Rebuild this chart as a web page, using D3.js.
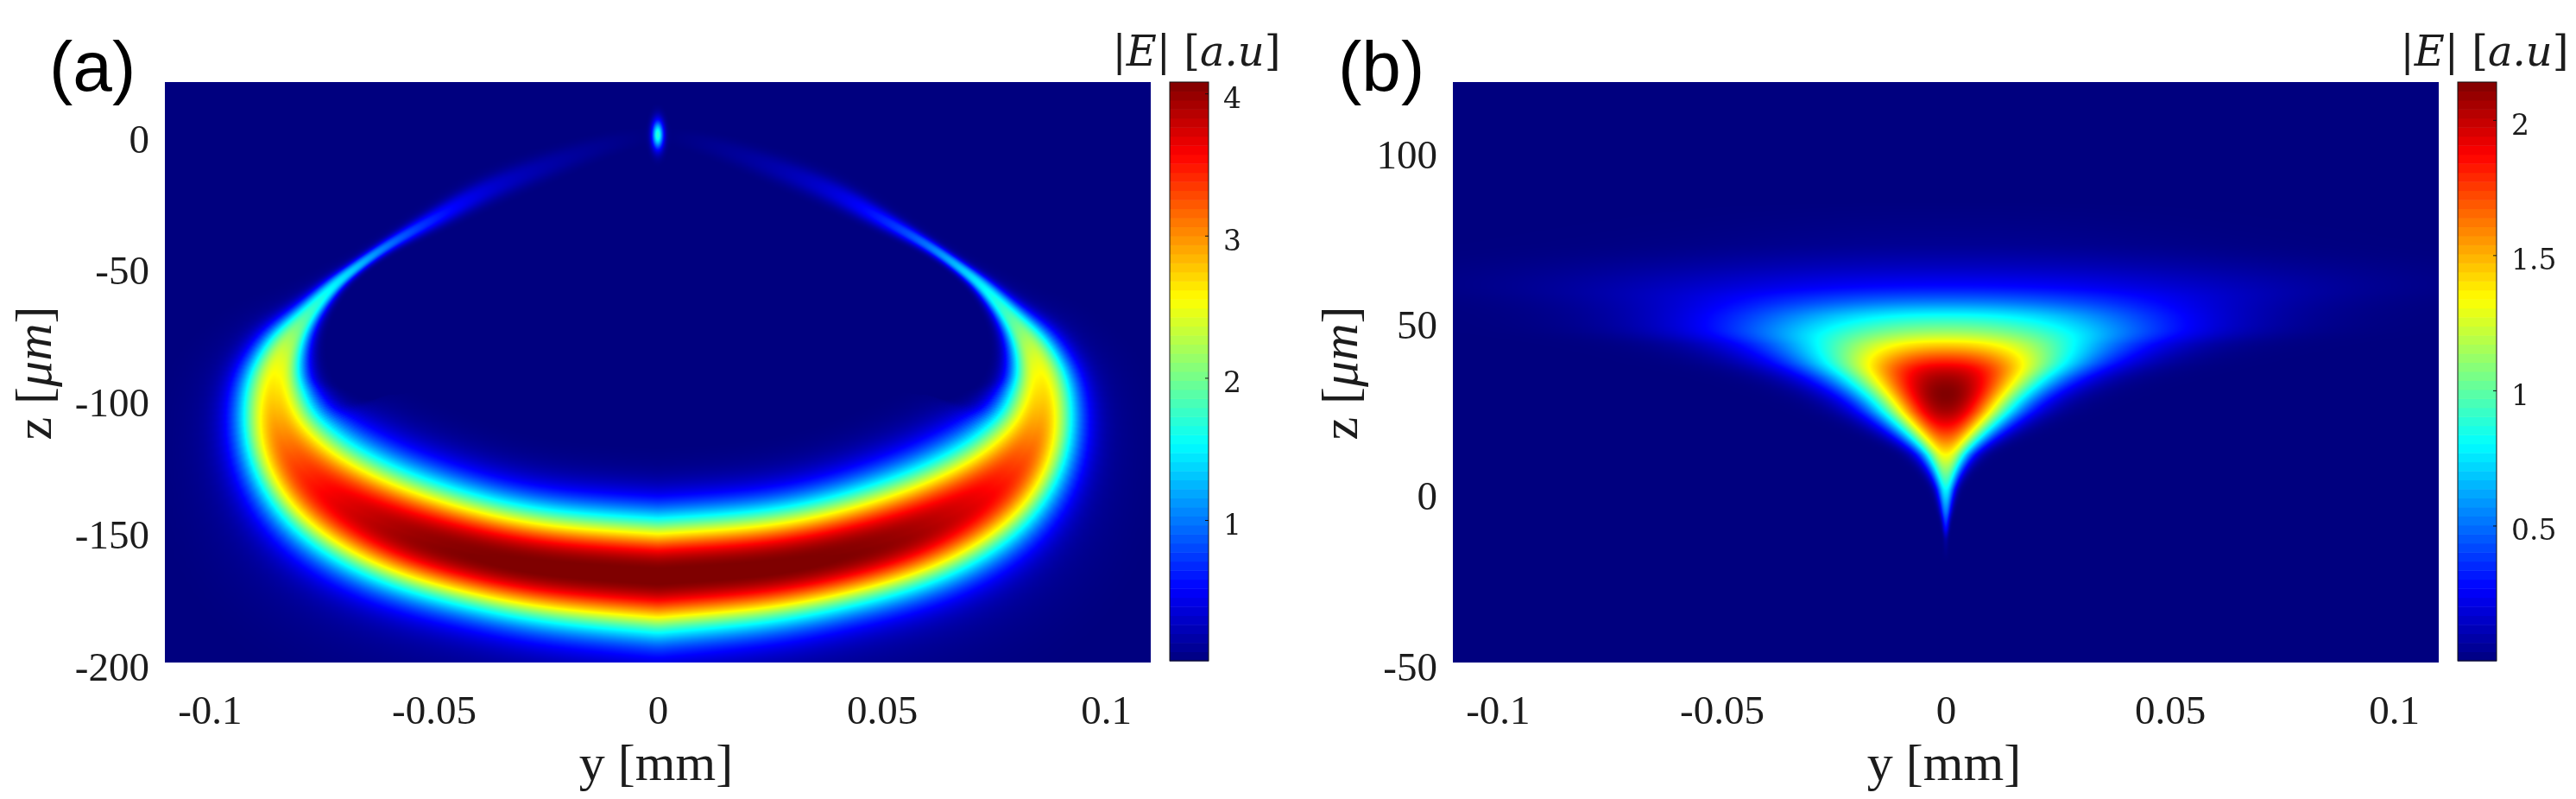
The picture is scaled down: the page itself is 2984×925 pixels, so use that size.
<!DOCTYPE html>
<meta charset="utf-8">
<style>
body { margin: 0; background: #fff; }
#chart { position: relative; width: 2984px; height: 925px; overflow: hidden; }
canvas, svg { position: absolute; left: 0; top: 0; }
text { fill: #1c1c1c; }
.tick text { font-family: 'Liberation Serif', serif; font-size: 47px; }
.cbar .tick text { font-family: 'DejaVu Serif', serif; font-size: 33px; }
.label { font-family: 'Liberation Serif', serif; font-size: 60px; }
.cbtitle { font-family: 'DejaVu Serif', serif; font-size: 48px; font-style: italic; }
.tag { font-family: 'Liberation Sans', sans-serif; font-size: 82px; fill: #000; }
</style>
<div id="chart"></div>
<script src="https://d3js.org/d3.v7.min.js"></script>
<script>
// jet colour map
var jetStops = [0, 0.125, 0.375, 0.625, 0.875, 1];
var jetColors = ["#00007f", "#0000ff", "#00ffff", "#ffff00", "#ff0000", "#7f0000"];

// ticks
var yTicks = [-0.1, -0.05, 0, 0.05, 0.1];
var zTicksA = [0, -50, -100, -150, -200];
var zTicksB = [100, 50, 0, -50];
var cbarTicksA = [1, 2, 3, 4];
var cbarTicksB = [0.5, 1, 1.5, 2];

// axis ranges
var yRange = [-0.11, 0.11];
var zRangeA = [-200, 20];
var zRangeB = [-50, 120];
var cbarRangeA = [0.01, 4.08];
var cbarRangeB = [0, 2.14];

// (a) crest of the crescent, from the bottom centre out to the tip
var crestY = [0, 0.0235, 0.0393, 0.0536, 0.0651, 0.0755, 0.0821, 0.085, 0.0854, 0.0846, 0.0827, 0.0786, 0.0728, 0.0682, 0.0603, 0.0486, 0.0387, 0.0239, 0.0092, 0];
var crestZ = [-166.3, -164, -159.4, -152.9, -144.7, -133.9, -120.8, -108.4, -96.3, -88.1, -79.2, -69.1, -57.9, -51.4, -41.6, -30.8, -21, -11.1, -2.3, 0];
var crestPeak = [4.1, 4.1, 4.08, 4.0, 3.8, 3.55, 3.2, 2.9, 2.65, 2.5, 2.25, 1.8, 1.5, 1.35, 0.95, 0.6, 0.33, 0.15, 0.06, 0];
var crestInner = [15.4, 15.4, 15.7, 16.4, 16.4, 16, 14.8, 12.5, 10, 7.5, 5.9, 3.3, 2.1, 1.6, 1.6, 2.6, 3.3, 3.3, 2.6, 2.6];
var crestOuter = [15.4, 14.7, 14.1, 14.4, 14.7, 14.1, 12.4, 10.8, 9.8, 8.2, 6.5, 3.9, 2.5, 1.8, 1.6, 2.6, 3.3, 3.3, 2.6, 2.6];

// (a) the small spot at the focus
var spotY = [0];
var spotZ = [0];
var spotPeak = [1.7];
var spotWidthY = [0.0009];
var spotWidthZ = [3.8];

// (b) row by row: z, value on the axis, half width in y
var rowZ = [85, 72.4, 65.7, 59.8, 55.5, 51.7, 47.1, 43.3, 37.8, 33.6, 28.5, 23.5, 19.3, 15, 10.8, 5.7, 0.7, -6, -11, -14, -20.4];
var rowPeak = [0, 0.03, 0.13, 0.28, 0.52, 0.82, 1.1, 1.38, 1.88, 2.07, 2.17, 2.07, 1.87, 1.6, 1.34, 1.05, 0.8, 0.5, 0.25, 0.04, 0];
var rowWidth = [0.03, 0.045, 0.056, 0.052, 0.041, 0.0365, 0.034, 0.0272, 0.021, 0.0172, 0.0131, 0.0106, 0.0085, 0.0062, 0.004, 0.0025, 0.0015, 0.00087, 0.00048, 0.0004, 0.0004];

var chart = d3.select("#chart");
var canvas = chart.append("canvas").attr("width", 2984).attr("height", 925).node();
var ctx = canvas.getContext("2d");
var svg = chart.append("svg").attr("width", 2984).attr("height", 925);

function drawField(x, y, cbar, field) {
  var color = d3.scaleLinear()
      .domain(jetStops.map(function(s) { return cbar[0] + s * (cbar[1] - cbar[0]); }))
      .range(jetColors)
      .clamp(true);
  var lut = d3.range(1024).map(function(i) {
    return d3.rgb(color(cbar[0] + (i / 1023) * (cbar[1] - cbar[0])));
  });
  var x0 = x.range()[0], x1 = x.range()[1], y0 = y.range()[1], y1 = y.range()[0];
  var w = x1 - x0, h = y1 - y0;
  var img = ctx.createImageData(w, h);
  for (var j = 0; j < h; j++) {
    for (var i = 0; i < w; i++) {
      var v = field(x0 + i + 0.5, y0 + j + 0.5);
      var k = Math.round((v - cbar[0]) / (cbar[1] - cbar[0]) * 1023);
      var c = lut[Math.max(0, Math.min(1023, k))];
      var o = (j * w + i) * 4;
      img.data[o] = c.r; img.data[o + 1] = c.g; img.data[o + 2] = c.b; img.data[o + 3] = 255;
    }
  }
  ctx.putImageData(img, x0, y0);
}

function fieldA(x, z) {
  var samples = d3.range(141).map(function(i) { return i / 140; });
  var fy = d3.interpolateBasis(crestY), fz = d3.interpolateBasis(crestZ),
      fp = d3.interpolateBasis(crestPeak), fi = d3.interpolateBasis(crestInner),
      fo = d3.interpolateBasis(crestOuter);
  var pxPerZ = z(0) - z(1);
  var pts = samples.map(function(t) {
    return { x: Math.abs(x(fy(t)) - x(0)), y: z(fz(t)), a: fp(t), si: fi(t) * pxPerZ, so: fo(t) * pxPerZ };
  });
  var spx = x(spotY[0]), spy = z(spotZ[0]);
  var ssx = (x(spotWidthY[0]) - x(0)), ssy = spotWidthZ[0] * pxPerZ;

  return function(px, py) {
    var mx = Math.abs(px - x(0));
    var best = Infinity, bt = 0, bi = 0, bs = 1;
    for (var n = 0; n < pts.length - 1; n++) {
      var a = pts[n], b = pts[n + 1];
      var dx = b.x - a.x, dy = b.y - a.y;
      var l = dx * dx + dy * dy || 1e-9;
      var t = ((mx - a.x) * dx + (py - a.y) * dy) / l;
      t = t < 0 ? 0 : t > 1 ? 1 : t;
      var ex = a.x + t * dx - mx, ey = a.y + t * dy - py;
      var d = ex * ex + ey * ey;
      if (d < best) {
        best = d; bt = t; bi = n;
        bs = dx * (py - a.y) - dy * (mx - a.x);
      }
    }
    var p = pts[bi], q = pts[bi + 1];
    var inner = bs < 0;
    var s = inner ? p.si + bt * (q.si - p.si) : p.so + bt * (q.so - p.so);
    var peak = p.a + bt * (q.a - p.a);
    var r = Math.sqrt(best) / s;
    var v = peak * Math.exp(-0.5 * Math.pow(r, 2.2));
    // the outer side has a wider faint skirt, fades in so the crest stays clean
    if (!inner) v += peak * 0.08 * Math.min(1, r) * Math.exp(-0.5 * r * r / 3.4);
    var ux = (px - spx) / ssx, uy = (py - spy) / ssy;
    return v + spotPeak[0] * Math.exp(-0.5 * (ux * ux + uy * uy));
  };
}

function fieldB(x, z) {
  var toT = d3.scaleLinear()
      .domain(rowZ)
      .range(rowZ.map(function(d, i) { return i / (rowZ.length - 1); }))
      .clamp(true);
  var fp = d3.interpolateBasis(rowPeak);
  var fw = d3.interpolateBasis(rowWidth.map(Math.log));
  var cx = x(0), pxPerY = x(1) - x(0);
  var cache = {};
  return function(px, py) {
    var row = cache[py];
    if (!row) {
      var t = toT(z.invert(py));
      row = cache[py] = { a: Math.max(0, fp(t)), s: Math.exp(fw(t)) * pxPerY };
    }
    var u = Math.abs(px - cx) / row.s;
    return row.a * Math.exp(-0.5 * Math.pow(u, 2.2));
  };
}

function drawPanel(opt) {
  var x = d3.scaleLinear().domain(yRange).range([opt.left, opt.right]);
  var z = d3.scaleLinear().domain(opt.zRange).range([767, 95]);
  drawField(x, z, opt.cbarRange, opt.field(x, z));

  var xAxis = svg.append("g")
      .attr("transform", "translate(0,767)")
      .call(d3.axisBottom(x).tickValues(yTicks).tickFormat(String).tickSize(0).tickPadding(38));
  xAxis.select(".domain").remove();

  var zAxis = svg.append("g")
      .attr("transform", "translate(" + opt.left + ",5)")
      .call(d3.axisLeft(z).tickValues(opt.zTicks).tickFormat(String).tickSize(0).tickPadding(18));
  zAxis.select(".domain").remove();

  svg.append("text").attr("class", "label")
      .attr("x", x(0) - 2).attr("y", 903)
      .attr("text-anchor", "middle")
      .text("y [mm]");

  var zl = svg.append("text").attr("class", "label")
      .attr("text-anchor", "middle")
      .attr("transform", "translate(" + opt.zLabelX + ",432) rotate(-90)");
  zl.append("tspan").text("z [");
  zl.append("tspan").attr("font-style", "italic").text("μm");
  zl.append("tspan").text("]");

  // colour bar, 64 bands like the original map
  var bar = d3.scaleLinear().domain(opt.cbarRange).range([765, 95]);
  var bands = d3.range(64);
  var color = d3.scaleLinear().domain(jetStops).range(jetColors);
  var cb = svg.append("g").attr("class", "cbar");
  cb.selectAll("rect.band").data(bands).enter().append("rect")
      .attr("class", "band")
      .attr("x", opt.cbarLeft)
      .attr("width", 45)
      .attr("y", function(d) { return 95 + 670 * (63 - d) / 64; })
      .attr("height", 670 / 64 + 0.5)
      .attr("fill", function(d) { return color((d + 0.5) / 64); });
  cb.append("rect")
      .attr("x", opt.cbarLeft).attr("y", 95).attr("width", 45).attr("height", 670)
      .attr("fill", "none").attr("stroke", "#111").attr("stroke-width", 1);

  var cbAxis = cb.append("g")
      .attr("transform", "translate(" + (opt.cbarLeft + 45) + ",0)")
      .call(d3.axisRight(bar).tickValues(opt.cbarTicks).tickFormat(String).tickSize(0).tickPadding(17));
  cbAxis.select(".domain").remove();
  cbAxis.selectAll("line").attr("x2", -4).attr("stroke", "#111");
  cbAxis.selectAll("text").attr("dy", "0.5em");

  var title = svg.append("text").attr("class", "cbtitle")
      .attr("x", opt.cbarLeft + 31).attr("y", 76)
      .attr("text-anchor", "middle");
  title.append("tspan").attr("font-style", "normal").text("|");
  title.append("tspan").text("E");
  title.append("tspan").attr("font-style", "normal").text("| [");
  title.append("tspan").text("a.u");
  title.append("tspan").attr("font-style", "normal").text("]");

  svg.append("text").attr("class", "tag")
      .attr("x", opt.tagX).attr("y", 105)
      .attr("clip-path", "url(#tagclip)")
      .text(opt.tag);
}

svg.append("clipPath").attr("id", "tagclip")
    .attr("clipPathUnits", "userSpaceOnUse")
  .append("rect").attr("x", 0).attr("y", 44).attr("width", 2984).attr("height", 79);

drawPanel({ left: 191, right: 1333, zRange: zRangeA, zTicks: zTicksA, cbarRange: cbarRangeA,
            cbarTicks: cbarTicksA, cbarLeft: 1355, field: fieldA, tag: "(a)", tagX: 57, zLabelX: 59 });
drawPanel({ left: 1683, right: 2825, zRange: zRangeB, zTicks: zTicksB, cbarRange: cbarRangeB,
            cbarTicks: cbarTicksB, cbarLeft: 2847, field: fieldB, tag: "(b)", tagX: 1550, zLabelX: 1572 });
</script>
